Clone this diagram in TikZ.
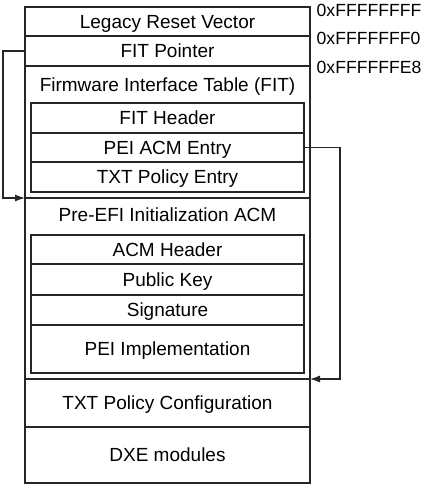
\documentclass[tikz,border=0pt]{standalone}
\usepackage{fontspec}
\setmainfont{Liberation Sans}
\usetikzlibrary{arrows.meta}
\begin{document}
\begin{tikzpicture}[x=1pt,y=-1pt,
  every node/.style={font=\fontsize{19}{22}\selectfont,text height=13.6pt,text depth=0pt},
  sect/.style={draw=black!85,line width=1.2pt,inner sep=0pt,outer sep=0pt,anchor=north west,minimum width=285pt},
  sub/.style={draw=black!85,line width=1.2pt,inner sep=0pt,outer sep=0pt,anchor=north west,minimum width=273pt},
  addr/.style={anchor=base west,inner sep=0pt,font=\fontsize{17.6}{20}\selectfont},
  conn/.style={draw=black!85,line width=1.1pt,-{Latex[length=10pt,width=7pt]}}]
\useasboundingbox (0,0) rectangle (424,486);
% outer sections
\node[sect,minimum height=29pt] (legacy) at (25,7) {Legacy Reset Vector};
\node[sect,minimum height=30pt] (fitptr) at (25,36) {FIT Pointer};
\node[sect,minimum height=132pt] (fit) at (25,66) {};
\node[inner sep=0pt] (fittitle) at (167.5,85) {Firmware Interface Table (FIT)};
\node[sect,minimum height=181pt] (pre) at (25,198) {};
\node[inner sep=0pt] (pretitle) at (167.5,215) {Pre-EFI Initialization ACM};
\node[sect,minimum height=48pt] (txtcfg) at (25,379) {TXT Policy Configuration};
\node[sect,minimum height=56pt] (dxe) at (25,427) {DXE modules};
% FIT entries
\node[sub,minimum height=30pt] (fithdr) at (31,103) {FIT Header};
\node[sub,minimum height=29pt] (peientry) at (31,133) {PEI ACM Entry};
\node[sub,minimum height=30pt] (txtentry) at (31,162) {TXT Policy Entry};
% ACM parts
\node[sub,minimum height=29pt] (acmhdr) at (31,235) {ACM Header};
\node[sub,minimum height=31pt] (pubkey) at (31,264) {Public Key};
\node[sub,minimum height=30pt] (sig) at (31,295) {Signature};
\node[sub,minimum height=48pt] (peiimpl) at (31,325) {PEI Implementation};
% addresses
\node[addr] (a1) at (316.5,17) {0xFFFFFFFF};
\node[addr] (a2) at (316.5,45) {0xFFFFFFF0};
\node[addr] (a3) at (316.5,74) {0xFFFFFFE8};
% connectors
\coordinate (lx) at (3,0);
\coordinate (rx) at (340,0);
\draw[conn] (fitptr.west) -- (fitptr.west -| lx) |- (pre.north west);
\draw[conn] (peientry.east) -- (peientry.east -| rx) |- (txtcfg.north east);
\end{tikzpicture}
\end{document}
